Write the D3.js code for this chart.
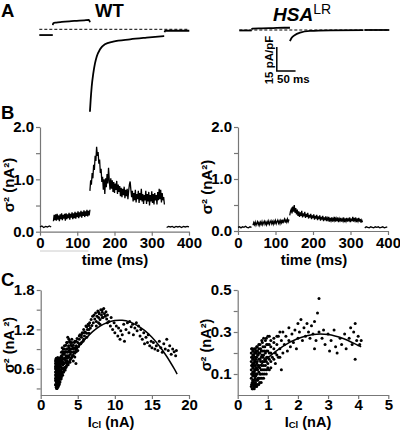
<!DOCTYPE html>
<html><head><meta charset="utf-8">
<script src="https://cdn.jsdelivr.net/npm/d3@7"></script>
<style>html,body{margin:0;padding:0;background:#fff;}svg{display:block;}</style>
</head><body>
<script>
// ---------- Panel A: current traces [time ms, pA/pF] ----------
const wtHold  = [[0,-3.6],[36,-3.6]];
const wtPulse = [[36,2.6],[37,3.8],[45,4.2],[60,4.6],[80,5.0],[100,5.3],[120,5.6],[132,5.8],[134,5.2],[135,4.4]];
const wtTail  = [[135,-51.5],[137,-44],[139.7,-35.9],[144,-27.5],[148.5,-21.3],[153,-17.1],[162,-12.5],[175,-9.4],[197,-7.7],[242,-6.25],[286,-5.2],[333,-4.2]];
const wtEnd   = [[334,-1.8],[336,-0.9],[400,-0.9]];
const hsaHold  = [[0,-0.3],[33,-0.3]];
const hsaPulse = [[33,0.4],[35,0.8],[60,1.0],[90,1.2],[120,1.4],[135,1.4]];
const hsaTail  = [[135,-6.9],[139.7,-4.8],[148.5,-3.1],[162,-1.7],[188.5,-0.6],[242,-0.2],[331,-0.05]];
const hsaEnd   = [[334,0],[400,0]];
const scaleBarMs = 50, scaleBarDensity = 15;

// ---------- Panel B: variance vs time (nA^2), segments sampled at fixed steps ----------
const wtVarSeg1 = {t0:0, dt:5, v:[0.09,0.11,0.08,0.1,0.09,0.11,0.09]};
const wtVarSeg2 = {t0:36, dt:2, v:[0.2,0.32,0.22,0.33,0.21,0.34,0.23,0.31,0.2,0.33,0.24,0.35,0.22,0.32,0.25,0.34,0.21,0.35,0.24,0.33,0.26,0.36,0.23,0.34,0.27,0.37,0.24,0.35,0.26,0.38,0.25,0.36,0.28,0.39,0.26,0.37,0.29,0.4,0.27,0.38,0.3,0.41,0.28,0.39,0.3,0.42,0.29,0.4,0.31,0.42]};
const wtVarSeg3 = {t0:134, dt:2, v:[0.78,0.98,0.9,1.12,1.02,1.28,1.18,1.45,1.35,1.62,1.45,1.52,1.3,1.38,1.12,1.2,0.95,1.05,0.8,1.0,0.72,1.02,
  0.85,1.1,0.92,1.22,0.98,0.8,1.02,0.82,0.98,0.76,0.95,0.74,0.92,0.8,0.97,0.72,0.9,0.76,0.87,0.68,0.84,0.66,
  0.82,0.7,0.86,0.64,0.8,0.68,0.82,0.62,0.78,0.9,0.96,0.8,0.66,0.78,0.58,0.74,0.6,0.8,0.56,0.72,0.62,0.78,
  0.55,0.74,0.6,0.82,0.58,0.72,0.53,0.7,0.6,0.78,0.53,0.72,0.58,0.76,0.5,0.7,0.58,0.77,0.55,0.72,0.52,0.74,
  0.6,0.7,0.52,0.76,0.6,0.82,0.62,0.8,0.56,0.74,0.6,0.66,0.52]};
const wtVarSeg4 = {t0:340, dt:5, v:[0.08,0.1,0.09,0.1,0.08,0.1,0.09,0.1,0.08,0.1,0.09,0.1,0.09]};
const hsaVarSeg1 = {t0:0, dt:4, v:[0.07,0.08,0.06,0.08,0.07,0.09,0.07,0.06,0.08,0.07]};
const hsaVarSeg2 = {t0:40, dt:2, v:[0.11,0.16,0.12,0.17,0.11,0.15,0.18,0.12,0.16,0.11,0.17,0.13,0.18,0.12,0.16,0.19,0.13,0.17,0.12,0.18,0.14,0.19,0.13,0.17,0.2,0.14,0.18,0.13,0.19,0.15,0.2,0.14,0.18,0.21,0.15,0.19,0.14,0.2,0.16,0.22,0.15,0.2,0.23,0.16,0.21,0.17,0.23,0.18,0.22]};
const hsaVarSeg3 = {t0:138, dt:2, v:[0.3,0.38,0.42,0.34,0.47,0.37,0.5,0.35,0.44,0.32,0.41,0.29,0.38,0.27,0.36,0.29,0.39,0.26,0.34,0.28,0.37,0.25,0.33,0.27,0.35,0.24,0.31,0.26,0.33,0.23,0.3,0.25,0.32,0.22,0.29,0.24,0.31,0.21,0.28,0.23,0.3,0.2,0.27,0.22,0.29,0.19,0.26,0.21,0.28,0.19,0.25,0.21,0.27,0.18,0.25,0.2,0.26,0.18,0.24,0.2,0.27,0.18,0.24,0.19,0.26,0.17,0.24,0.2,0.25,0.18,0.23,0.19,0.26,0.17,0.24,0.19,0.25,0.18,0.23,0.2,0.26,0.17,0.24,0.19,0.27,0.18,0.25,0.2,0.26,0.17,0.24,0.19,0.25,0.18,0.23,0.16,0.21,0.17]};
const hsaVarSeg4 = {t0:338, dt:4, v:[0.06,0.08,0.07,0.06,0.08,0.07,0.06,0.08,0.07,0.08,0.06,0.07,0.08,0.06,0.07,0.08]};
const timeTicks = [0,100,200,300,400];
const varTicks = [0,0.5,1,1.5,2];
const varLabels = [0,1,2];

// ---------- Panel C: variance vs current [I_Cl nA, sigma^2 nA^2] ----------
const wtScatter = [[2.0,0.42],[2.0,0.55],[2.0,0.68],[2.05,0.35],[2.05,0.48],[2.05,0.62],[2.05,0.74],[2.1,0.32],[2.1,0.4],[2.1,0.5],[2.1,0.58],[2.1,0.66],[2.15,0.3],[2.15,0.44],[2.15,0.53],[2.15,0.71],[2.2,0.36],[2.2,0.47],[2.2,0.6],[2.2,0.69],[2.25,0.33],[2.25,0.41],[2.25,0.52],[2.25,0.64],[2.3,0.38],[2.3,0.46],[2.3,0.57],[2.3,0.72],[2.35,0.35],[2.35,0.5],[2.35,0.62],[2.4,0.42],[2.4,0.54],[2.4,0.67],[2.45,0.38],[2.45,0.48],[2.45,0.6],[2.5,0.44],[2.5,0.56],[2.5,0.7],[2.55,0.4],[2.55,0.52],[2.6,0.47],[2.6,0.63],[2.6,0.76],
 [2.65,0.5],[2.7,0.58],[2.7,0.72],[2.75,0.45],[2.8,0.62],[2.8,0.8],[2.85,0.54],[2.9,0.68],[2.9,0.86],[2.95,0.5],[3.0,0.6],[3.0,0.75],[3.05,0.9],[3.1,0.55],[3.1,0.68],[3.15,0.82],[3.2,0.62],[3.2,0.95],[3.25,0.74],[3.3,0.58],[3.3,0.86],[3.35,0.7],[3.4,0.8],[3.45,0.64],[3.5,0.9],[3.5,1.0],
 [3.55,0.72],[3.6,0.85],[3.65,1.08],[3.7,0.66],[3.75,0.95],[3.8,0.78],[3.85,0.88],[3.9,1.02],[3.95,0.7],[4.0,0.82],[4.05,0.96],[4.1,0.76],[4.15,0.9],[4.2,1.05],[4.3,0.8],[4.35,0.92],[4.4,0.72],[4.5,0.86],[4.55,1.0],[4.6,0.78],[4.7,0.9],[4.75,0.68],[4.8,0.95],[4.9,1.06],[5.0,0.88],[5.0,1.0],
 [5.1,0.94],[5.2,1.05],[5.3,1.12],[5.4,0.98],[5.5,1.08],[5.6,1.15],[5.7,1.02],[5.8,1.2],[5.9,1.1],[6.0,1.16],[6.1,1.25],[6.2,1.08],[6.3,1.2],[6.4,1.28],[6.5,1.14],[6.6,1.3],[6.7,1.22],[6.8,1.35],[6.9,1.26],[7.0,1.4],
 [7.1,1.3],[7.2,1.42],[7.3,1.36],[7.4,1.45],[7.5,1.32],[7.6,1.4],[7.7,1.48],[7.8,1.38],[7.9,1.44],[8.0,1.35],[8.1,1.5],[8.2,1.42],[8.3,1.46],[8.4,1.38],[8.5,1.52],[8.6,1.44],[8.7,1.4],[8.8,1.47],[8.9,1.36],[9.0,1.42],[7.5,1.25],[8.0,1.28],[9.0,1.3],
 [9.2,1.32],[9.4,1.25],[9.5,1.38],[9.7,1.2],[9.9,1.3],[10.0,1.15],[10.2,1.25],[10.4,1.1],[10.5,1.22],[10.7,1.05],[10.8,1.18],[11.0,1.12],[11.2,1.28],[11.3,1.02],[11.5,1.2],[11.7,1.3],[11.9,1.15],[12.0,1.32],[12.2,1.24],[12.4,1.28],[12.5,1.12],[12.7,1.22],[12.9,1.3],[13.0,1.18],
 [13.2,1.25],[13.4,1.1],[13.5,1.2],[13.7,1.05],[13.9,1.15],[14.0,0.98],[14.2,1.08],[14.4,1.0],[14.5,1.12],[14.7,0.95],[14.9,1.02],[15.0,0.92],
 [15.2,1.0],[15.4,0.9],[15.6,0.95],[15.8,0.88],[16.0,1.02],[16.2,0.92],[16.4,0.85],[16.6,0.98],[16.8,0.9],[17.0,1.05],[17.2,0.88],[17.4,0.95],[17.6,0.82],[17.8,0.9],[18.0,0.86],[18.2,0.8],[18.3,0.88]];
// dense low-current columns: [I, sigma^2 values...]
const wtScatterDense = [[2.0,0.36,0.45,0.51,0.6,0.64,0.72],[2.1,0.35,0.45,0.54,0.62,0.7,0.76],[2.2,0.3,0.4,0.5,0.55,0.65,0.74],[2.3,0.32,0.42,0.5,0.61,0.66,0.77],[2.4,0.34,0.46,0.58,0.63,0.72],[2.5,0.36,0.48,0.6,0.66,0.75],[2.6,0.4,0.52,0.56,0.68,0.72],[2.7,0.44,0.5,0.64,0.68,0.78],[2.8,0.48,0.55,0.68,0.74,0.85],[2.9,0.52,0.6,0.72,0.78,0.92],[3.0,0.55,0.66,0.7,0.82,0.86],[3.2,0.58,0.68,0.76,0.84,0.9],[3.4,0.62,0.72,0.76,0.86,0.96],[3.6,0.68,0.76,0.8,0.9,1.0],[3.8,0.7,0.8,0.86,0.92,1.05],[4.0,0.74,0.86,0.9,1.0],[4.2,0.78,0.85,0.95,1.0],[4.4,0.8,0.9,0.96],[4.6,0.84,0.92,1.02],[4.8,0.86,0.92,1.02],[5.2,0.98,1.1],[5.5,1.0,1.12],[5.8,1.05,1.15],[6.2,1.14,1.24],[6.5,1.2,1.26],[7.8,1.3,1.46],[8.3,1.38,1.5]];
const wtFit = [[2,0.34],[3,0.56],[4,0.75],[5,0.92],[6,1.05],[7,1.165],[8,1.25],[9,1.305],[10,1.335],[11,1.338],[12,1.314],[13,1.262],[14,1.184],[15,1.079],[16,0.946],[17,0.787],[18,0.601],[18.4,0.519]];
const hsaScatter = [[0.45,0.04],[0.45,0.08],[0.45,0.12],[0.45,0.16],[0.45,0.2],[0.48,0.03],[0.48,0.06],[0.48,0.1],[0.48,0.14],[0.48,0.18],[0.48,0.22],[0.5,0.05],[0.5,0.09],[0.5,0.13],[0.5,0.17],[0.5,0.21],[0.53,0.04],[0.53,0.07],[0.53,0.11],[0.53,0.15],[0.53,0.19],[0.56,0.05],[0.56,0.09],[0.56,0.12],[0.56,0.16],[0.56,0.2],[0.59,0.06],[0.59,0.1],[0.59,0.14],[0.59,0.18],[0.59,0.22],
 [0.62,0.07],[0.62,0.13],[0.62,0.2],[0.65,0.05],[0.65,0.1],[0.65,0.16],[0.65,0.23],[0.68,0.08],[0.68,0.14],[0.68,0.19],[0.7,0.11],[0.7,0.17],[0.7,0.24],[0.73,0.06],[0.73,0.13],[0.73,0.2],[0.76,0.1],[0.76,0.16],[0.76,0.22],[0.8,0.08],[0.8,0.14],[0.8,0.19],[0.8,0.26],[0.84,0.12],[0.84,0.18],[0.84,0.23],[0.88,0.1],[0.88,0.16],[0.88,0.21],[0.92,0.14],[0.92,0.2],[0.92,0.26],[0.96,0.12],[0.96,0.18],[0.96,0.24],[1.0,0.15],[1.0,0.21],[1.0,0.28],
 [1.05,0.17],[1.05,0.24],[1.1,0.13],[1.1,0.2],[1.1,0.26],[1.15,0.18],[1.2,0.22],[1.2,0.27],[1.25,0.15],[1.25,0.2],[1.3,0.24],[1.35,0.18],[1.35,0.28],[1.4,0.22],[1.45,0.26],[1.45,0.12],[1.5,0.2],[1.5,0.3],
 [1.55,0.24],[1.6,0.28],[1.65,0.21],[1.7,0.26],[1.7,0.32],[1.75,0.23],[1.8,0.29],[1.85,0.25],[1.9,0.31],[1.95,0.22],[2.0,0.27],[2.0,0.34],
 [2.05,0.3],[2.1,0.36],[2.15,0.26],[2.2,0.32],[2.25,0.28],[2.3,0.34],[2.35,0.3],[2.4,0.27],[2.45,0.33],[2.5,0.29],[2.55,0.35],[2.6,0.26],[2.65,0.39],[2.7,0.46],[2.7,0.3],[2.55,0.22],
 [2.8,0.27],[2.85,0.31],[2.9,0.24],[3.0,0.29],[3.05,0.21],[3.1,0.26],[3.2,0.31],[3.25,0.23],[3.3,0.2],[3.4,0.27],[3.45,0.24],
 [3.55,0.29],[3.6,0.22],[3.7,0.27],[3.75,0.32],[3.8,0.24],[3.85,0.3],[3.9,0.34],[3.9,0.17],[3.95,0.26],[4.0,0.28],[4.05,0.24],[4.1,0.26]];
const hsaScatterDense = [[0.46,0.05,0.1,0.14,0.18,0.22],[0.5,0.03,0.07,0.11,0.15,0.19],[0.52,0.06,0.1,0.13,0.17,0.21],[0.55,0.03,0.07,0.11,0.14,0.18,0.22],[0.58,0.04,0.08,0.12,0.16,0.2],[0.6,0.05,0.09,0.12,0.17,0.21],[0.63,0.04,0.1,0.15,0.18,0.23],[0.66,0.07,0.12,0.19,0.21],[0.7,0.05,0.08,0.14,0.2,0.22],[0.74,0.08,0.1,0.17,0.24],[0.78,0.06,0.12,0.18,0.21],[0.82,0.1,0.16,0.21,0.25],[0.86,0.08,0.14,0.19,0.27],[0.9,0.12,0.17,0.23],[0.95,0.1,0.16,0.21,0.27],[1.0,0.13,0.18,0.24],[1.05,0.12,0.2,0.28],[1.1,0.16,0.23],[1.2,0.17,0.25],[1.3,0.19,0.28],[1.4,0.18,0.3]];
const hsaFit = [[0.5,0.103],[1,0.177],[1.5,0.232],[2,0.269],[2.5,0.288],[3,0.288],[3.5,0.269],[4,0.236],[4.1,0.23]];
const wtCurTicks = [0,5,10,15,20];
const hsaCurTicks = [0,1,2,3,4,5];
const wtVarTicksC = [0.3,0.6,0.9,1.2,1.5,1.8];
const wtVarLabelsC = [0.6,1.2,1.8];
const hsaVarTicksC = [0.1,0.2,0.3,0.4,0.5];
const hsaVarLabelsC = [0.1,0.3,0.5];

// ---------- drawing ----------
const FONT = "'Liberation Sans', Arial, Helvetica, sans-serif";
const svg = d3.select('body').append('svg').attr('width',400).attr('height',430);
svg.append('rect').attr('width',400).attr('height',430).attr('fill','#fff');

function txt(x,y,s,size,opts={}) {
  const t = svg.append('text').attr('x',x).attr('y',y).attr('font-family',FONT)
    .attr('font-size',size).attr('font-weight',opts.weight||'bold').attr('fill','#000')
    .attr('text-anchor',opts.anchor||'start');
  if (opts.italic) t.attr('font-style','italic');
  if (opts.rotate) t.attr('transform',`rotate(-90,${x},${y})`);
  t.text(s);
  return t;
}

// Panel letters and titles
txt(1,16.5,'A',18.5); txt(1,119,'B',18.5); txt(1,286,'C',18.5);
txt(95,16.5,'WT',18.5);
const hsaT = txt(273,21,'HSA',19,{italic:true});
hsaT.append('tspan').attr('font-style','normal').attr('font-weight','normal').attr('font-size',14).attr('dy',-7).text('LR');

// ----- Panel A -----
const axL = d3.scaleLinear().domain([0,400]).range([39.3,189.3]);
const ayL = d3.scaleLinear().domain([0,-15]).range([29.3,53.3]);
const axR = d3.scaleLinear().domain([0,400]).range([239.3,389.3]);
const ayR = d3.scaleLinear().domain([0,-15]).range([30,54]);
function drawTraces(xs, ys, segs){
  const line = d3.line().x(d=>xs(d[0])).y(d=>ys(d[1])).curve(d3.curveMonotoneX);
  svg.append('line').attr('x1',xs(0)).attr('x2',xs(400)).attr('y1',ys(0)).attr('y2',ys(0))
    .attr('stroke','#000').attr('stroke-width',1).attr('stroke-dasharray','3,2');
  segs.forEach(s=>svg.append('path').attr('d',line(s)).attr('fill','none').attr('stroke','#000').attr('stroke-width',1.8));
}
drawTraces(axL, ayL, [wtHold, wtPulse, wtTail, wtEnd]);
drawTraces(axR, ayR, [hsaHold, hsaPulse, hsaTail, hsaEnd]);
// scale bar
const sbT0 = 100, sbI0 = -25.6;
svg.append('path').attr('d',`M${axR(sbT0)},${ayR(sbI0+scaleBarDensity)}V${ayR(sbI0)}H${axR(sbT0+scaleBarMs)}`)
  .attr('fill','none').attr('stroke','#000').attr('stroke-width',1.5);
txt(277,83,'50 ms',11.5);
txt(273,60,'15 pA/pF',11.5,{anchor:'middle',rotate:true});

// ----- axes helper -----
function axes(x, y, xt, yt, yl, yfmt, xpad){
  const gx = svg.append('g').attr('transform',`translate(0,${y.range()[0]})`)
    .call(d3.axisBottom(x).tickValues(xt).tickSize(4).tickPadding(xpad).tickSizeOuter(0).tickFormat(d3.format('d')));
  const gy = svg.append('g').attr('transform',`translate(${x.range()[0]},0)`)
    .call(d3.axisLeft(y).tickValues(yt).tickSize(4).tickPadding(2).tickSizeOuter(0)
      .tickFormat(v => yl.some(l=>Math.abs(l-v)<1e-9) ? d3.format(yfmt)(v) : ''));
  [gx,gy].forEach(g=>{
    g.attr('font-family',FONT).attr('font-size',15).attr('font-weight','bold');
    g.selectAll('text').attr('fill','#000');
    g.selectAll('path,line').attr('stroke','#777').attr('stroke-width',1.2);
  });
}

// ----- Panel B -----
function segPts(s){ return s.v.map((v,i)=>[s.t0+i*s.dt, v]); }
function panelB(x, y, segs){
  axes(x, y, timeTicks, varTicks, varLabels, '.1f', 2);
  const line = d3.line().x(d=>x(d[0])).y(d=>y(d[1]));
  segs.forEach(s=>svg.append('path').attr('d',line(segPts(s))).attr('fill','none').attr('stroke','#000').attr('stroke-width',1.3));
}
const bxL = d3.scaleLinear().domain([0,400]).range([40,189]);
const byL = d3.scaleLinear().domain([0,2]).range([231.7,127]);
const bxR = d3.scaleLinear().domain([0,400]).range([238,388]);
const byR = d3.scaleLinear().domain([0,2]).range([231,127]);
panelB(bxL, byL, [wtVarSeg1, wtVarSeg2, wtVarSeg3, wtVarSeg4]);
panelB(bxR, byR, [hsaVarSeg1, hsaVarSeg2, hsaVarSeg3, hsaVarSeg4]);
svg.append('line').attr('x1',bxL(0)).attr('x2',bxL(130)).attr('y1',251).attr('y2',251).attr('stroke','#ccc').attr('stroke-width',1);
txt(115,264.5,'time (ms)',15,{anchor:'middle'});
txt(314,264.5,'time (ms)',15,{anchor:'middle'});
txt(13.5,185,'σ² (nA²)',15,{anchor:'middle',rotate:true});
txt(211.5,187,'σ² (nA²)',15,{anchor:'middle',rotate:true});

// ----- Panel C -----
function expand(dense){ const out=[]; dense.forEach(r=>r.slice(1).forEach(v=>out.push([r[0],v]))); return out; }
function panelC(x, y, xt, yt, yl, pts, fit){
  axes(x, y, xt, yt, yl, '.1f', 0);
  svg.append('g').selectAll('circle').data(pts).join('circle')
    .attr('cx',d=>x(d[0])).attr('cy',d=>y(d[1])).attr('r',1.5).attr('fill','#000');
  const line = d3.line().x(d=>x(d[0])).y(d=>y(d[1])).curve(d3.curveCatmullRom);
  svg.append('path').attr('d',line(fit)).attr('fill','none').attr('stroke','#000').attr('stroke-width',1.5);
}
const cxL = d3.scaleLinear().domain([0,20]).range([40.7,189]);
const cyL = d3.scaleLinear().domain([0.2,1.8]).range([395,290]);
const cxR = d3.scaleLinear().domain([0,5]).range([237.7,388.3]);
const cyR = d3.scaleLinear().domain([0,0.5]).range([395,290]);
panelC(cxL, cyL, wtCurTicks, wtVarTicksC, wtVarLabelsC, wtScatter.concat(expand(wtScatterDense)), wtFit);
panelC(cxR, cyR, hsaCurTicks, hsaVarTicksC, hsaVarLabelsC, hsaScatter.concat(expand(hsaScatterDense)), hsaFit);
function icl(x){
  const t = txt(x,426.5,'I',14.5,{anchor:'middle'});
  t.append('tspan').attr('font-size',9.5).attr('dy',1.5).text('Cl');
  t.append('tspan').attr('dy',-1.5).text(' (nA)');
}
icl(111); icl(308);
txt(14,345,'σ² (nA ²)',14.5,{anchor:'middle',rotate:true});
txt(211,345,'σ² (nA²)',14.5,{anchor:'middle',rotate:true});
</script>
</body></html>
